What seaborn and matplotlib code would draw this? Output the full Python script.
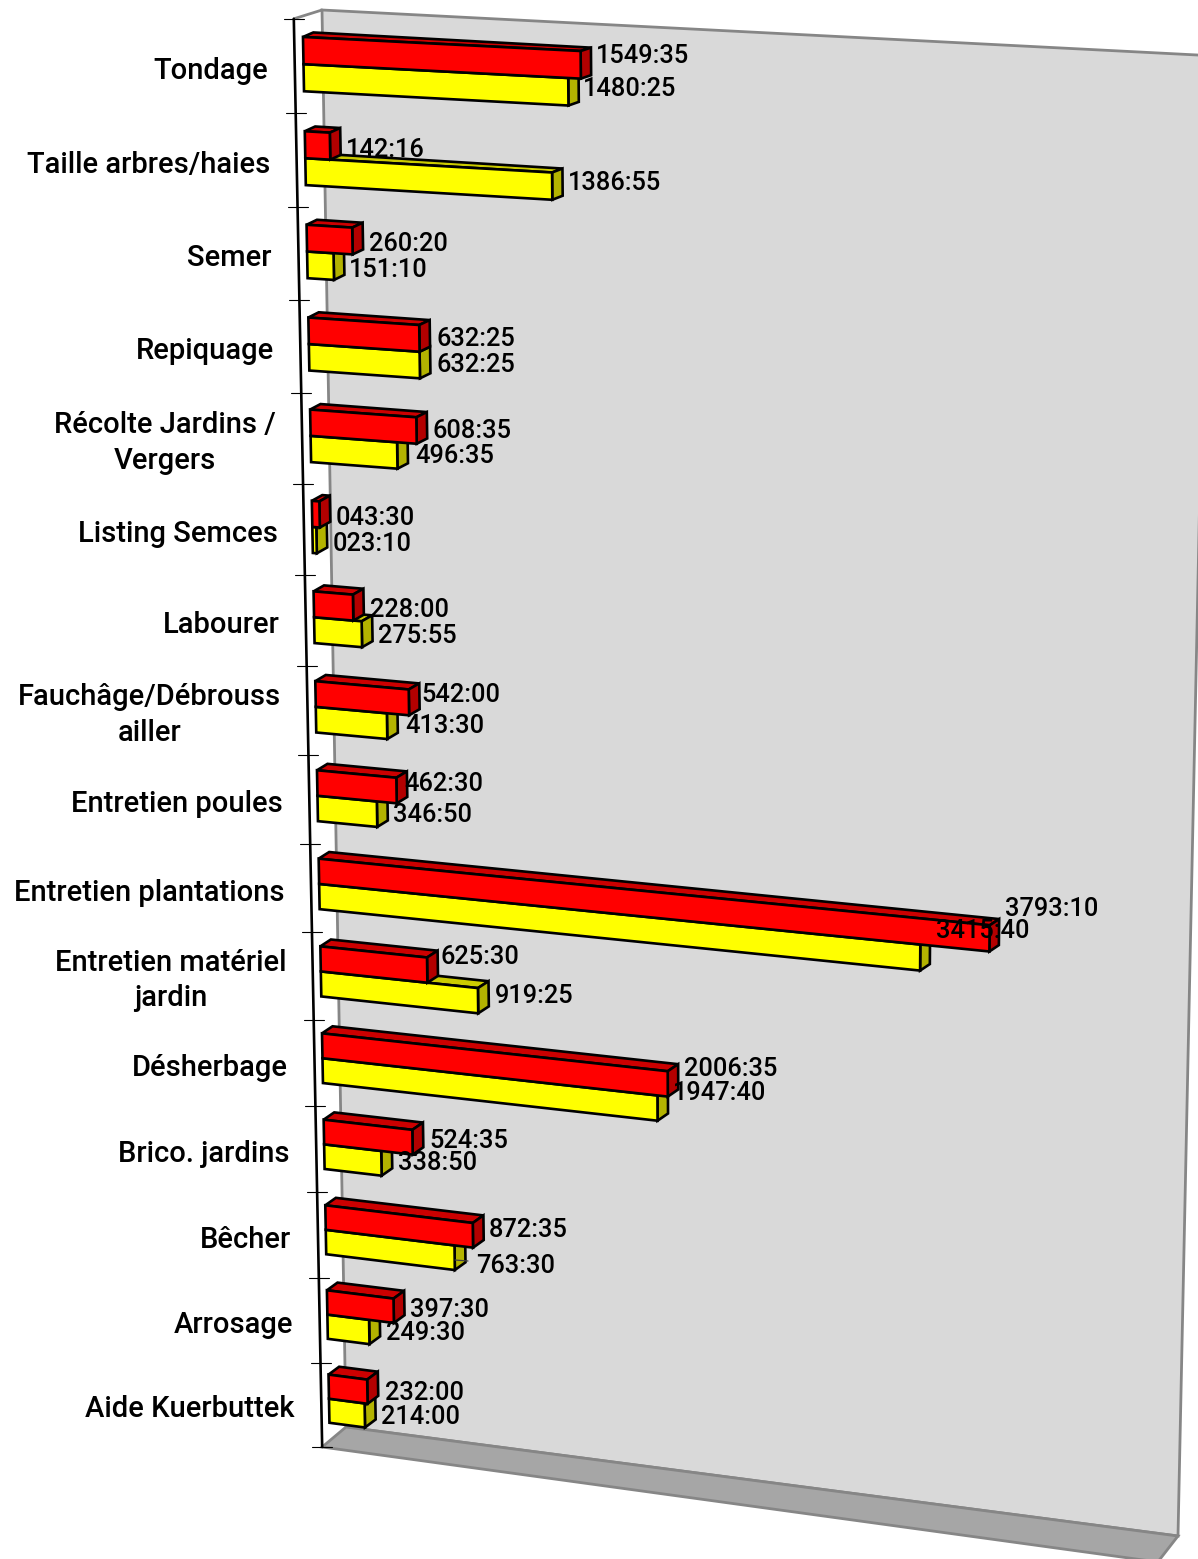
import numpy as np
import pandas as pd
import seaborn as sns
import matplotlib
matplotlib.use("Agg")
import matplotlib.pyplot as plt
from matplotlib.patches import Polygon
from matplotlib.transforms import Affine2D, Transform

W_PX, H_PX = 1198, 1559
FONT = "Roboto"

categories = ["Tondage", "Taille arbres/haies", "Semer", "Repiquage",
              "Récolte Jardins /\nVergers", "Listing Semces", "Labourer",
              "Fauchâge/Débrouss\nailler", "Entretien poules",
              "Entretien plantations", "Entretien matériel\njardin",
              "Désherbage", "Brico. jardins", "Bêcher", "Arrosage",
              "Aide Kuerbuttek"]
red_labels = ["1549:35", "142:16", "260:20", "632:25", "608:35", "043:30",
              "228:00", "542:00", "462:30", "3793:10", "625:30", "2006:35",
              "524:35", "872:35", "397:30", "232:00"]
yellow_labels = ["1480:25", "1386:55", "151:10", "632:25", "496:35", "023:10",
                 "275:55", "413:30", "346:50", "3415:40", "919:25", "1947:40",
                 "338:50", "763:30", "249:30", "214:00"]


def hours(s):
    h, m = s.split(":")
    return int(h) + int(m) / 60


red_values = [hours(s) for s in red_labels]
yellow_values = [hours(s) for s in yellow_labels]

# layout: left edge / centre of each value label, in picture pixels
red_label_xy = [(596, 54), (346, 148), (369, 242), (436, 337), (433, 429),
                (336, 516), (370, 608), (421, 693), (404, 782), (1005, 907),
                (441, 955), (684, 1067), (429, 1139), (489, 1228), (410, 1308),
                (385, 1391)]
yellow_label_xy = [(583, 87), (568, 181), (349, 268), (436, 363), (415, 454),
                   (333, 542), (378, 634), (405, 724), (393, 813), (936, 929),
                   (495, 994), (673, 1091), (398, 1161), (476, 1264), (386, 1331),
                   (381, 1415)]

BAR_W = 0.575
b = BAR_W / 2

# calibration of the perspective: (value, category position) -> picture pixel
front_cal = [
    (0, -b, 303.3, 37.3), (1549.6, -b, 581, 51.7), (1549.6, 0, 580, 78.3),
    (0, 0, 303.3, 64), (0, b, 303.3, 90.7), (1480.4, b, 568.3, 105.3),
    (0, 1 - b, 305, 131.7), (0, 1, 306, 158.3), (1386.9, 1 + b, 552.7, 199.3),
    (3793.2, 9, 989.3, 951.7), (0, 9 - b, 319, 858), (0, 9, 319, 884),
    (0, 9 + b, 319, 910), (3415.7, 9 + b, 920, 970.7),
    (2006.6, 11, 668, 1096), (1947.7, 11 + b, 658, 1121),
    (0, 15 - b, 329, 1375), (232, 15 - b, 367.3, 1380), (232, 15, 366.7, 1403),
    (0, 15, 329.3, 1399.3), (0, 15 + b, 329.3, 1422.3), (214, 15 + b, 365, 1427.3),
]
back_cal = [
    (0, -b, 311.7, 33.3), (1549.6, -b, 591.7, 47.7), (1549.6, 0, 591, 75),
    (1480.4, b, 579, 101.7), (1386.9, 1, 562.7, 168.3), (1386.9, 1 + b, 562.7, 196),
    (260.3, 2 - b, 363.3, 223.3), (260.3, 2, 363.3, 248.3),
    (3793.2, 9 - b, 998.3, 918.3), (3793.2, 9, 999.3, 945.7), (0, 9 - b, 329, 852),
    (0, 11 - b, 333, 1026), (2006.6, 11, 678, 1090),
    (0, 15 - b, 338.3, 1366), (232, 15 - b, 378.3, 1371.7), (232, 15, 378.3, 1396),
    (214, 15 + b, 376, 1420),
]
VMAX = 4900
axis_cal = [(0, -0.5, 294, 18), (0, 3.5, 301.4, 394), (0, 7.5, 308.4, 755),
            (0, 11.5, 315.3, 1106), (0, 15.5, 322, 1447),
            (VMAX, 15.5, 1158, 1562), (VMAX, -0.5, 1184, 64)]


def fit_h(pts):
    rows = []
    for v, y, px, py in pts:
        v, px, py = v / 1000, px / 1000, py / 1000
        rows.append([v, y, 1, 0, 0, 0, -px * v, -px * y, -px])
        rows.append([0, 0, 0, v, y, 1, -py * v, -py * y, -py])
    h = np.linalg.svd(np.array(rows))[2][-1].reshape(3, 3)
    return h


def project(h, pts):
    pts = np.atleast_2d(np.asarray(pts, float))
    q = np.c_[pts[:, 0] / 1000, pts[:, 1], np.ones(len(pts))] @ h.T
    return q[:, :2] / q[:, 2:] * 1000


class Perspective(Transform):
    input_dims = output_dims = 2
    has_inverse = False
    is_affine = False

    def __init__(self, h):
        super().__init__()
        self.h = h

    def transform_non_affine(self, values):
        return project(self.h, values)


H_FRONT, H_BACK, H_AXIS = fit_h(front_cal), fit_h(back_cal), fit_h(axis_cal)

sns.set_theme(style="white")
plt.rcParams["font.family"] = [FONT, "DejaVu Sans"]

df = pd.DataFrame({
    "task": categories * 2,
    "hours": red_values + yellow_values,
    "series": ["a"] * len(categories) + ["b"] * len(categories),
})

fig = plt.figure(figsize=(W_PX / 100, H_PX / 100), dpi=100, facecolor="white")
ax = fig.add_axes([0, 0, 1, 1])
sns.barplot(data=df, y="task", x="hours", hue="series", order=categories,
            hue_order=["a", "b"], palette=["#FF0000", "#FFFF00"], width=BAR_W,
            dodge=True, gap=0, saturation=1, legend=False, ax=ax,
            edgecolor="black", linewidth=1.9)
ax.axis("off")

pix = Affine2D().scale(1, -1).translate(0, H_PX)
EDGE = "#868686"


def poly(xy, fc, z, ec=EDGE, lw=2.0):
    p = Polygon(xy, closed=True, facecolor=fc, edgecolor=ec, linewidth=lw,
                transform=pix, zorder=z, joinstyle="miter")
    ax.add_patch(p)
    p.set_clip_on(False)


# walls: back wall and floor
wall_tl, wall_tr, wall_br, wall_bl = (322, 10), (1209, 55.6), (1178, 1536), (346, 1427)
axis_t, axis_b = project(H_AXIS, [(0, -0.5), (0, 15.5)])
floor_fr = tuple(project(H_AXIS, [(VMAX, 15.5)])[0])
poly([wall_tl, wall_tr, wall_br, wall_bl], "#D9D9D9", 1)
poly([tuple(axis_b), wall_bl, wall_br, floor_fr], "#A6A6A6", 1)
ax.plot([axis_t[0], wall_tl[0]], [axis_t[1], wall_tl[1]], color=EDGE, lw=2,
        transform=pix, zorder=1)

# category axis
ax.plot(*zip(axis_t, axis_b), color="black", lw=1.9, transform=pix, zorder=2)
for i in range(len(categories) + 1):
    (x, y), = project(H_AXIS, [(0, i - 0.5)])
    ax.plot([x - 10, x + 10], [y, y], color="black", lw=0.8, transform=pix, zorder=2)
for i, name in enumerate(categories):
    (x, y), = project(H_AXIS, [(0, i)])
    ax.text(x - 26.5, y + 4.5, name, transform=pix, ha="right", va="center",
            multialignment="center", fontsize=21, color="black", linespacing=1.34,
            fontweight="medium", zorder=20)

# 3D faces derived from the bars seaborn drew
DARK = {0: ("#CC0000", "#B30000"), 1: ("#CCCC00", "#B3B300")}
for s, cont in enumerate(ax.containers):
    for i, bar in enumerate(cont):
        x0, y0, w, h = bar.get_x(), bar.get_y(), bar.get_width(), bar.get_height()
        x1, y1 = x0 + w, y0 + h
        z = 10 + i * 0.1 - s * 0.05
        top = np.r_[project(H_FRONT, [(x0, y0), (x1, y0)]),
                    project(H_BACK, [(x1, y0), (x0, y0)])]
        side = np.r_[project(H_FRONT, [(x1, y0), (x1, y1)]),
                     project(H_BACK, [(x1, y1), (x1, y0)])]
        poly(top, DARK[s][0], z, "black", 1.9)
        poly(side, DARK[s][1], z, "black", 1.9)
        bar.set_transform(Perspective(H_FRONT) + pix)
        bar.set_zorder(z + 0.01)
        bar.set_clip_on(False)
        bar.set_joinstyle("miter")

# leader line of the one label that was moved away from its bar
ax.plot([455, 468], [1260, 1261], color="#404040", lw=0.9, transform=pix, zorder=25)

# value labels
for lab, (x, y) in zip(red_labels + yellow_labels, red_label_xy + yellow_label_xy):
    ax.text(x, y - 0.7, lab, transform=pix, ha="left", va="center_baseline", fontsize=18.3,
            color="black", fontweight="medium", zorder=30)

ax.set_xlim(0, 5000)
fig.savefig("out.png", dpi=100, facecolor="white")
